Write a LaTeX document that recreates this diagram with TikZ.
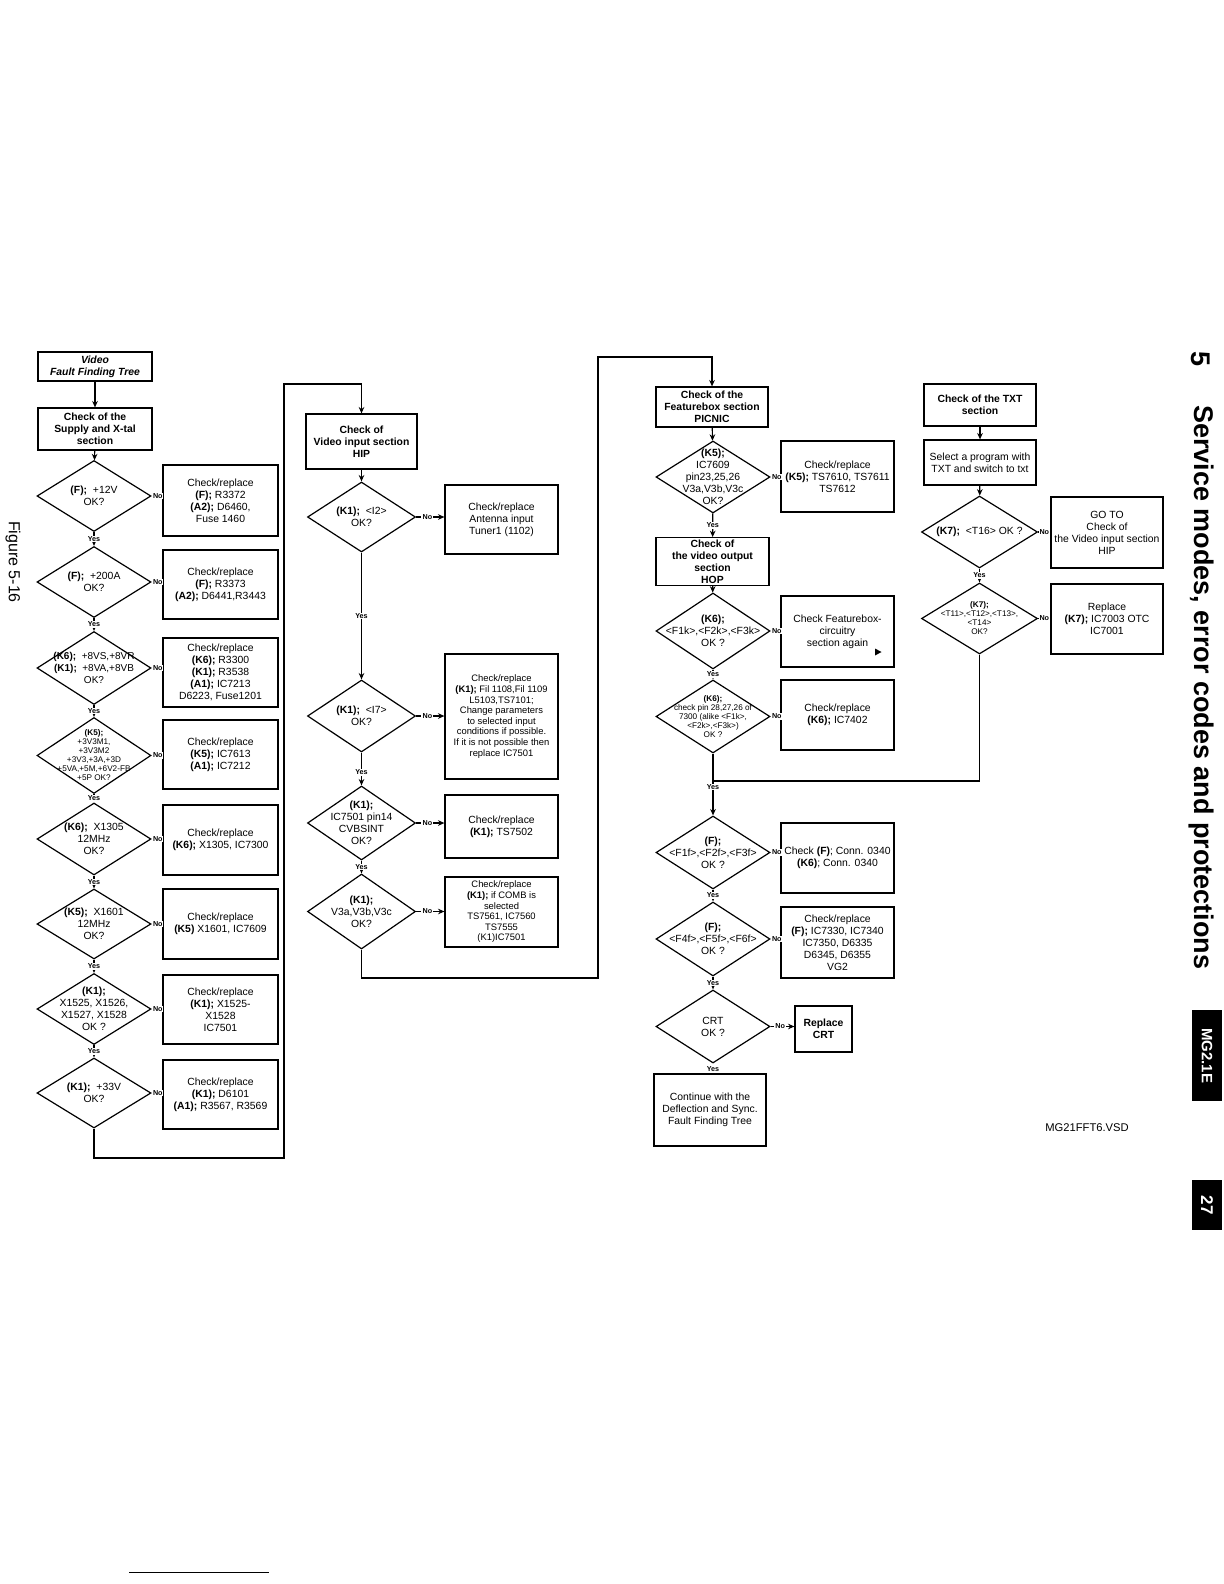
\documentclass[tikz,border=0pt]{standalone}
\usepackage{fontspec}
\setmainfont{Liberation Sans}
\usetikzlibrary{shapes.geometric,arrows.meta}
\newcommand{\fsn}{\fontsize{5.2}{6}\selectfont}
\newcommand{\fsm}{\fontsize{4.7}{5.3}\selectfont}
\newcommand{\fst}{\fontsize{4.1}{4.5}\selectfont}
\newcommand{\fyn}{\bfseries\fontsize{3.6}{4}\selectfont}
\begin{document}
\begin{tikzpicture}[x=0.5pt,y=-0.5pt,
  every node/.style={font=\fsn},
  ln/.style={line width=0.6pt},
  arr/.style={ln,-{Stealth[length=3.2pt,width=2.8pt]}},
  cbox/.style={draw,ln,align=center,inner sep=1pt,minimum width=#1},
  cbox/.default=57.5pt,
  dia/.style={draw,ln,diamond,inner sep=0pt,minimum width=#1},
  dia/.default=57pt,
  dtext/.style={align=center,inner sep=0pt},
  yl/.style={fill=white,inner sep=0.4pt,font=\fyn},
  nl/.style={fill=white,inner sep=0.4pt,font=\fyn,pos=0,anchor=west},
  nlm/.style={fill=white,inner sep=0.6pt,font=\fyn,pos=0.4}
]
\useasboundingbox (0,0) rectangle (1224,1584);

% ---------------- Column 1 ----------------
\node[cbox=57pt,minimum height=14.5pt] (title) at (95,366.5) {\textbf{\textit{Video}}\\\textbf{\textit{Fault Finding Tree}}};
\node[cbox=57pt,minimum height=21pt] (supply) at (95,429) {\textbf{Check of the}\\\textbf{Supply and X-tal}\\\textbf{section}};

\node[dia,minimum height=35.5pt,label={[dtext]center:{\textbf{(F);}\ \ +12V\\OK?}}] (c1d1) at (94,496) {};
\node[cbox,minimum height=35.5pt] (c1b1) at (220.5,500.5) {Check/replace\\\textbf{(F);}\ R3372\\\textbf{(A2);}\ D6460,\\Fuse 1460};
\node[dia,minimum height=35.5pt,label={[dtext]center:{\textbf{(F);}\ \ +200A\\OK?}}] (c1d2) at (94,582) {};
\node[cbox,minimum height=34.5pt] (c1b2) at (220.5,584.5) {Check/replace\\\textbf{(F);}\ R3373\\\textbf{(A2);}\ D6441,R3443};
\node[dia,minimum height=36.5pt,label={[dtext,font=\fontsize{5}{6}\selectfont]center:{\textbf{(K6);}\ \ +8VS,+8VR\\\textbf{(K1);}\ \ +8VA,+8VB\\OK?}}] (c1d3) at (94,668) {};
\node[cbox,minimum height=34.5pt] (c1b3) at (220.5,672.5) {Check/replace\\\textbf{(K6);}\ R3300\\\textbf{(K1);}\ R3538\\\textbf{(A1);}\ IC7213\\D6223, Fuse1201};
\node[dia,minimum height=38pt,label={[dtext,font=\fst]center:{\textbf{(K5);}\\+3V3M1,\\+3V3M2\\+3V3,+3A,+3D\\+5VA,+5M,+6V2-FB\\+5P OK?}}] (c1d4) at (94,755.5) {};
\node[cbox,minimum height=34.5pt] (c1b4) at (220.5,754.5) {Check/replace\\\textbf{(K5);}\ IC7613\\\textbf{(A1);}\ IC7212};
\node[dia,minimum height=36pt,label={[dtext]center:{\textbf{(K6);}\ \ X1305\\12MHz\\OK?}}] (c1d5) at (94,839) {};
\node[cbox,minimum height=35pt] (c1b5) at (220.5,840) {Check/replace\\\textbf{(K6);}\ X1305, IC7300};
\node[dia,minimum height=35pt,label={[dtext]center:{\textbf{(K5);}\ \ X1601\\12MHz\\OK?}}] (c1d6) at (94,924) {};
\node[cbox,minimum height=35pt] (c1b6) at (220.5,924) {Check/replace\\\textbf{(K5)}\ X1601, IC7609};
\node[dia,minimum height=35.5pt,label={[dtext]center:{\textbf{(K1);}\\X1525, X1526,\\X1527, X1528\\OK ?}}] (c1d7) at (94,1009) {};
\node[cbox,minimum height=34.5pt] (c1b7) at (220.5,1009.5) {Check/replace\\\textbf{(K1);}\ X1525-\\X1528\\IC7501};
\node[dia,minimum height=35pt,label={[dtext]center:{\textbf{(K1);}\ \ +33V\\OK?}}] (c1d8) at (94,1093) {};
\node[cbox,minimum height=34.5pt] (c1b8) at (220.5,1094.5) {Check/replace\\\textbf{(K1);}\ D6101\\\textbf{(A1);}\ R3567, R3569};

\draw[arr] (title) -- (supply);
\draw[arr] (supply) -- (c1d1);
\draw[arr] (c1d1) -- node[yl]{Yes} (c1d2);
\draw[arr] (c1d2) -- node[yl]{Yes} (c1d3);
\draw[arr] (c1d3) -- node[yl]{Yes} (c1d4);
\draw[arr] (c1d4) -- node[yl]{Yes} (c1d5);
\draw[arr] (c1d5) -- node[yl]{Yes} (c1d6);
\draw[arr] (c1d6) -- node[yl]{Yes} (c1d7);
\draw[arr] (c1d7) -- node[yl]{Yes} (c1d8);
\foreach \i in {1,...,8}{\draw[arr] (c1d\i.east) -- node[nl]{No} (c1b\i.west |- c1d\i.east);}

% ---------------- Column 2 ----------------
\node[cbox=55.5pt,minimum height=27.5pt] (hip) at (361.5,441.5) {\textbf{Check of}\\\textbf{Video input section}\\\textbf{HIP}};
\node[dia=54pt,minimum height=35pt,label={[dtext]center:{\textbf{(K1);}\ \ <I2>\\OK?}}] (c2d1) at (361.5,517) {};
\node[cbox=56.5pt,minimum height=34.5pt] (c2b1) at (501.5,519.5) {Check/replace\\Antenna input\\Tuner1 (1102)};
\node[dia=54pt,minimum height=36pt,label={[dtext]center:{\textbf{(K1);}\ \ <I7>\\OK?}}] (c2d2) at (361.5,716) {};
\node[cbox=56.5pt,minimum height=62.5pt,font=\fsm] (c2b2) at (501.5,716.5) {Check/replace\\\textbf{(K1);}\ Fil 1108,Fil 1109\\L5103,TS7101;\\Change parameters\\to selected input\\conditions if possible.\\If it is not possible then\\replace IC7501};
\node[dia=54pt,minimum height=37pt,label={[dtext]center:{\textbf{(K1);}\\IC7501 pin14\\CVBSINT\\OK?}}] (c2d3) at (361.5,823) {};
\node[cbox=56.5pt,minimum height=31.5pt] (c2b3) at (501.5,826.5) {Check/replace\\\textbf{(K1);}\ TS7502};
\node[dia=54pt,minimum height=37.5pt,label={[dtext]center:{\textbf{(K1);}\\V3a,V3b,V3c\\OK?}}] (c2d4) at (361.5,911.5) {};
\node[cbox=56.5pt,minimum height=35pt,font=\fsm,inner sep=0.5pt] (c2b4) at (501.5,912) {Check/replace\\\textbf{(K1);}\ if COMB is\\selected\\TS7561, IC7560\\TS7555\\(K1)IC7501};

\coordinate (j1) at (284,1158);
\coordinate (j2) at (284,384);
\draw[arr] (c1d8.south) |- (j1) -- (j2) -| (hip.north);
\draw[arr] (hip) -- (c2d1);
\draw[arr] (c2d1) -- node[yl]{Yes} (c2d2);
\draw[arr] (c2d2) -- node[yl,pos=0.6]{Yes} (c2d3);
\draw[arr] (c2d3) -- node[yl]{Yes} (c2d4);
\draw[arr] (c2d1.east) -- node[nlm]{No} (c2b1.west |- c2d1.east);
\draw[arr] (c2d2.east) -- node[nlm]{No} (c2b2.west |- c2d2.east);
\draw[arr] (c2d3.east) -- node[nlm]{No} (c2b3.west |- c2d3.east);
\draw[arr] (c2d4.east) -- node[nlm]{No} (c2b4.west |- c2d4.east);

% ---------------- Column 3 ----------------
\node[cbox=56pt,minimum height=20pt] (picnic) at (712,407) {\textbf{Check of the}\\\textbf{Featurebox section}\\\textbf{PICNIC}};
\node[dia,minimum height=36pt,label={[dtext]center:{\textbf{(K5);}\\IC7609\\pin23,25,26\\V3a,V3b,V3c\\OK?}}] (c3d1) at (713,477) {};
\node[cbox=56.5pt,minimum height=35.5pt] (c3b1) at (837.5,476.5) {Check/replace\\\textbf{(K5);}\ TS7610, TS7611\\TS7612};
\node[cbox=56.5pt,minimum height=22.5pt] (hop) at (712.5,561.5) {\textbf{Check of}\\\textbf{the video output}\\\textbf{section}\\\textbf{HOP}};
\node[dia,minimum height=38pt,label={[dtext]center:{\textbf{(K6);}\\<F1k>,<F2k>,<F3k>\\OK ?}}] (c3d2) at (713,631) {};
\node[cbox=56.5pt,minimum height=35.5pt] (c3b2) at (837.5,631.5) {Check Featurebox-\\circuitry\\section again};
\node[dia,minimum height=36.5pt,label={[dtext,font=\fst]center:{\textbf{(K6);}\\check pin 28,27,26 of\\7300 (alike <F1k>,\\<F2k>,<F3k>)\\OK ?}}] (c3d3) at (713,716.5) {};
\node[cbox=56.5pt,minimum height=35pt] (c3b3) at (837.5,715) {Check/replace\\\textbf{(K6);}\ IC7402};
\node[dia,minimum height=36.5pt,label={[dtext]center:{\textbf{(F);}\\<F1f>,<F2f>,<F3f>\\OK ?}}] (c3d4) at (713,852.5) {};
\node[cbox=56.5pt,minimum height=35pt] (c3b4) at (837.5,858) {Check \textbf{(F)}; Conn. 0340\\\textbf{(K6)}; Conn. 0340};
\node[dia,minimum height=37pt,label={[dtext]center:{\textbf{(F);}\\<F4f>,<F5f>,<F6f>\\OK ?}}] (c3d5) at (713,939) {};
\node[cbox=56.5pt,minimum height=35.5pt] (c3b5) at (837.5,942.5) {Check/replace\\\textbf{(F);}\ IC7330, IC7340\\IC7350, D6335\\D6345, D6355\\VG2};
\node[dia,minimum height=36.5pt,label={[dtext]center:{CRT\\OK ?}}] (c3d6) at (713,1026.5) {};
\node[cbox=28.5pt,minimum height=23pt] (c3b6) at (823.5,1029) {\textbf{Replace}\\\textbf{CRT}};
\node[cbox=56pt,minimum height=36pt] (cont) at (710,1110) {Continue with the\\Deflection and Sync.\\Fault Finding Tree};
\fill (875,648.5) -- (881.5,652) -- (875,655.5) -- cycle;

\coordinate (j3) at (598,978);
\coordinate (j4) at (598,357);
\draw[arr] (c2d4.south) |- (j3) -- (j4) -| (picnic.north);
\draw[arr] (picnic) -- (c3d1);
\draw[arr] (c3d1) -- node[yl]{Yes} (hop);
\draw[arr] (hop) -- (c3d2);
\draw[arr] (c3d2) -- node[yl]{Yes} (c3d3);
\coordinate (m) at (713,781);
\draw[arr] (c3d3) -- (c3d4);
\node[yl] (y34) at (713,787) {Yes};
\draw[arr] (c3d4) -- node[yl]{Yes} (c3d5);
\draw[arr] (c3d5) -- node[yl]{Yes} (c3d6);
\node[yl] (y6) at (713,1069) {Yes};
\foreach \i in {1,...,5}{\draw[arr] (c3d\i.east) -- node[nl]{No} (c3b\i.west |- c3d\i.east);}
\draw[arr] (c3d6.east) -- node[nlm]{No} (c3b6.west |- c3d6.east);

% ---------------- Column 4 ----------------
\node[cbox=56pt,minimum height=21pt] (txt) at (980,405) {\textbf{Check of the TXT}\\\textbf{section}};
\node[cbox=56pt,minimum height=22.5pt] (sel) at (980,462.5) {Select a program with\\TXT and switch to txt};
\node[dia=58pt,minimum height=36pt,label={[dtext]center:{\textbf{(K7);}\ \ <T16> OK ?}}] (c4d1) at (979.5,532) {};
\node[cbox=56pt,minimum height=35.5pt] (c4b1) at (1107,532.5) {GO TO\\Check of\\the Video input section\\HIP};
\node[dia=58pt,minimum height=35.5pt,label={[dtext,font=\fst]center:{\textbf{(K7);}\\<T11>,<T12>,<T13>,\\<T14>\\OK?}}] (c4d2) at (979.5,618.5) {};
\node[cbox=56pt,minimum height=35pt] (c4b2) at (1107,619) {Replace\\\textbf{(K7);}\ IC7003 OTC\\IC7001};

\draw[arr] (txt) -- (sel);
\draw[arr] (sel) -- (c4d1);
\draw[arr] (c4d1) -- node[yl]{Yes} (c4d2);
\draw[arr] (c4d1.east) -- node[nl]{No} (c4b1.west |- c4d1.east);
\draw[arr] (c4d2.east) -- node[nl]{No} (c4b2.west |- c4d2.east);
\draw[ln] (c4d2.south) |- (m);

% ---------------- Page furniture ----------------
\node[rotate=-90,font=\bfseries\fontsize{13.5}{15}\selectfont] (secno) at (1201,359) {5};
\node[rotate=-90,anchor=west,font=\bfseries\fontsize{13.5}{15}\selectfont] (sect) at (1201,398) {Service modes, error codes and protections};
\node[rotate=-90,fill=black,text=white,minimum width=45.5pt,minimum height=15pt,inner sep=0pt,font=\bfseries\fontsize{7.5}{8}\selectfont] (mg) at (1207,1055.5) {MG2.1E};
\node[rotate=-90,fill=black,text=white,minimum width=25pt,minimum height=15pt,inner sep=0pt,font=\bfseries\fontsize{8.5}{9}\selectfont] (pg) at (1207,1205) {27};
\node[rotate=-90,font=\fontsize{8}{9}\selectfont] (fig) at (13,562) {Figure 5-16};
\node[font=\fontsize{5.6}{6}\selectfont] (vsd) at (1087,1128) {MG21FFT6.VSD};
\draw[line width=0.5pt] (129,1572) -- (269,1572);
\end{tikzpicture}
\end{document}
